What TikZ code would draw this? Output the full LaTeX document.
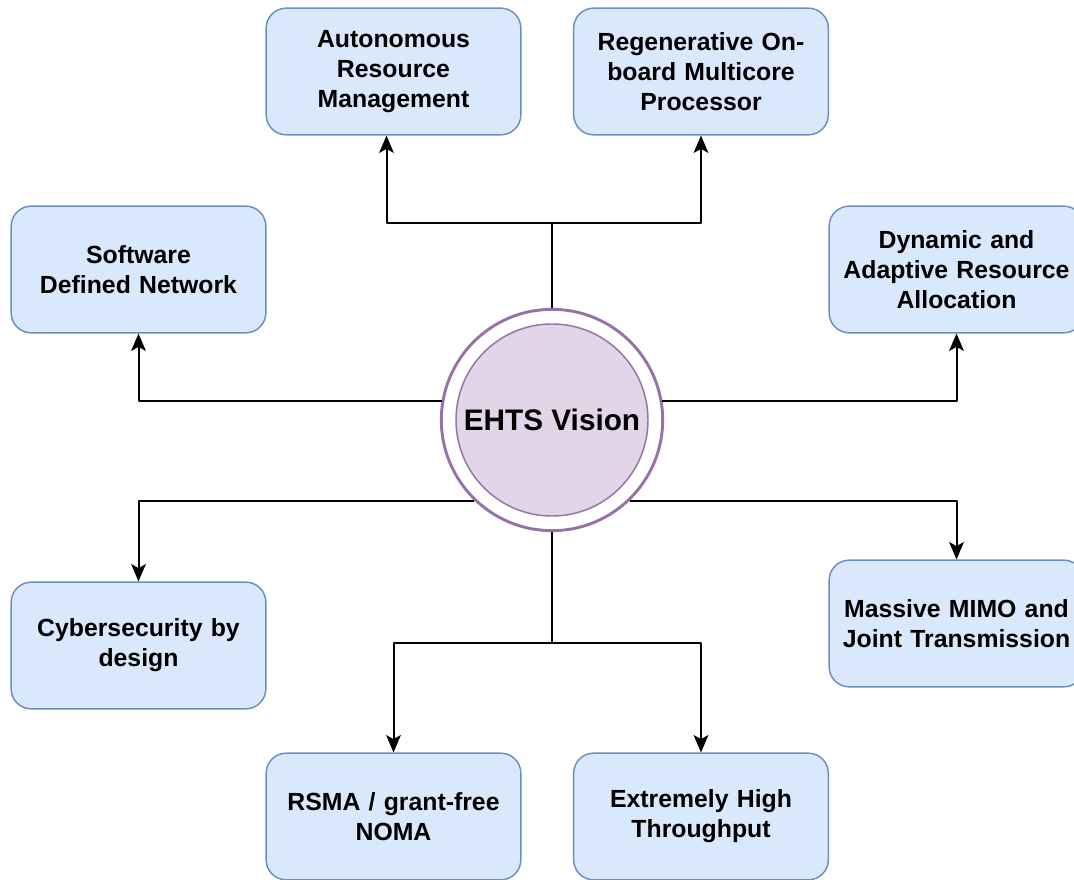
\documentclass[tikz,border=0pt]{standalone}
\usepackage{fontspec}
\setmainfont{Liberation Sans}
\usetikzlibrary{arrows.meta}
\definecolor{boxfill}{HTML}{DAE8FC}
\definecolor{boxdraw}{HTML}{6C8EBF}
\definecolor{visfill}{HTML}{E1D5E7}
\definecolor{visdraw}{HTML}{9673A6}
\tikzset{
  topic/.style={draw=boxdraw,fill=boxfill,line width=1.1pt,rounded corners=15pt,
    minimum width=191pt,minimum height=95pt,text width=190pt,align=center,
    font=\fontsize{18.6}{22.5}\selectfont\bfseries,inner sep=0pt},
  ring/.style={circle,draw=visdraw,fill=white,line width=2.2pt,minimum size=166pt,inner sep=0pt},
  core/.style={circle,draw=visdraw,fill=visfill,line width=1.1pt,minimum size=144pt,inner sep=0pt,
    font=\fontsize{22.3}{26}\selectfont\bfseries},
  arr/.style={-{Stealth[length=13pt,width=11pt,inset=3pt]},line width=1.5pt}
}
\begin{document}
\begin{tikzpicture}[x=0.75pt,y=-0.75pt,line join=round]
  \useasboundingbox (0,0) rectangle (1074,880);
  \node[topic] (arm) at (393.5,71.5) {Autonomous\\Resource\\Management};
  \node[topic] (rmp) at (701,71.5) {Regenerative On-\\board Multicore\\Processor};
  \node[topic] (sdn) at (138.5,269.5) {Software\\Defined Network};
  \node[topic] (dara) at (956.5,269.5) {Dynamic and\\Adaptive Resource\\Allocation};
  \node[topic] (cyb) at (138.5,645.5) {Cybersecurity by\\design};
  \node[topic] (mimo) at (956.5,623.5) {Massive MIMO and\\Joint Transmission};
  \node[topic] (rsma) at (393.5,816.5) {RSMA / grant-free\\NOMA};
  \node[topic] (eht) at (701,816.5) {Extremely High\\Throughput};
  \node[ring] (ehts) at (552,420) {};
  \node[core] (vision) at (ehts.center) {EHTS Vision};
  \coordinate (up) at (552,223);
  \coordinate (down) at (552,643);
  \draw[line width=1.5pt] (ehts.north) -- (up);
  \draw[arr] (up) -| ([xshift=-5.25pt]arm.south);
  \draw[arr] (up) -| (rmp.south);
  \draw[arr] (ehts.170) -| (sdn.south);
  \draw[arr] (ehts.10) -| (dara.south);
  \draw[arr] (ehts.226) -| (cyb.north);
  \draw[arr] (ehts.-46) -| (mimo.north);
  \draw[line width=1.5pt] (ehts.south) -- (down);
  \draw[arr] (down) -| (rsma.north);
  \draw[arr] (down) -| (eht.north);
\end{tikzpicture}
\end{document}
